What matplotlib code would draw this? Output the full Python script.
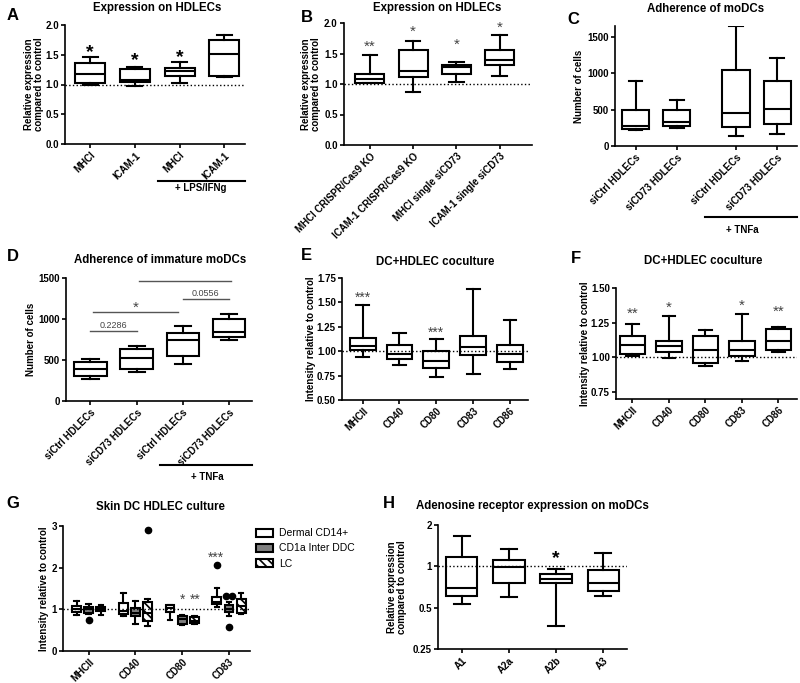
import numpy as np
import matplotlib
matplotlib.use('Agg')
import matplotlib.pyplot as plt
from matplotlib.patches import Patch
from matplotlib.lines import Line2D

plt.rcParams['font.family'] = ['Liberation Sans', 'DejaVu Sans']
plt.rcParams['font.weight'] = 'bold'
plt.rcParams['axes.labelweight'] = 'bold'
plt.rcParams['axes.linewidth'] = 1.2
plt.rcParams['hatch.linewidth'] = 1.2

W, H = 800, 683

# ---------------- data (whisker low, q1, median, q3, whisker high) ----------------
a_labels = ['MHCI', 'ICAM-1', 'MHCI', 'ICAM-1']
a_box = [(1.00, 1.02, 1.17, 1.36, 1.46), (0.97, 1.04, 1.08, 1.26, 1.30),
         (1.03, 1.15, 1.22, 1.28, 1.37), (1.13, 1.15, 1.52, 1.75, 1.84)]
a_stars = ['*', '*', '*', '*']
a_star_y = [1.64, 1.51, 1.55, 2.01]

b_labels = ['MHCI CRISPR/Cas9 KO', 'ICAM-1 CRISPR/Cas9 KO', 'MHCI single siCD73', 'ICAM-1 single siCD73']
b_box = [(1.01, 1.02, 1.08, 1.16, 1.48), (0.87, 1.11, 1.22, 1.56, 1.71),
         (1.04, 1.16, 1.28, 1.31, 1.36), (1.13, 1.31, 1.40, 1.55, 1.80)]
b_stars = ['**', '*', '*', '*']
b_star_y = [1.69, 1.93, 1.71, 2.0]

c_labels = ['siCtrl HDLECs', 'siCD73 HDLECs', 'siCtrl HDLECs', 'siCD73 HDLECs']
c_box = [(216, 239, 271, 491, 890), (248, 271, 330, 500, 638),
         (133, 261, 454, 1050, 1647), (170, 298, 514, 894, 1211)]

d_labels = ['siCtrl HDLECs', 'siCD73 HDLECs', 'siCtrl HDLECs', 'siCD73 HDLECs']
d_box = [(273, 301, 395, 476, 509), (354, 395, 525, 639, 667),
         (456, 545, 741, 830, 916), (749, 781, 842, 997, 1066)]
# comparisons: (x0, x1, line y, text y, text)
d_comp = [(0.0, 1.0, 851, 924, '0.2286'), (0.05, 1.9, 1087, 1188, '*'),
          (2.0, 3.0, 1241, 1310, '0.0556'), (1.05, 3.05, 1465, 1542, '*')]

e_labels = ['MHCII', 'CD40', 'CD80', 'CD83', 'CD86']
e_box = [(0.945, 1.014, 1.055, 1.14, 1.476), (0.856, 0.918, 0.973, 1.065, 1.19),
         (0.733, 0.825, 0.90, 1.007, 1.13), (0.767, 0.956, 1.038, 1.158, 1.64),
         (0.815, 0.89, 0.973, 1.065, 1.32)]
e_stars = ['***', '', '***', '', '']
e_star_y = [1.58, 0, 1.23, 0, 0]

f_labels = ['MHCII', 'CD40', 'CD80', 'CD83', 'CD86']
f_box = [(1.007, 1.024, 1.091, 1.156, 1.243), (0.995, 1.036, 1.084, 1.115, 1.30),
         (0.94, 0.959, 1.055, 1.156, 1.20), (0.976, 1.007, 1.055, 1.12, 1.313),
         (1.036, 1.05, 1.115, 1.207, 1.219)]
f_stars = ['**', '*', '', '*', '**']
f_star_y = [1.344, 1.387, 0, 1.40, 1.363]

g_labels = ['MHCII', 'CD40', 'CD80', 'CD83']
g_series = ['Dermal CD14+', 'CD1a Inter DDC', 'LC']
g_dermal = [(0.87, 0.93, 1.00, 1.08, 1.20), (0.83, 0.90, 0.97, 1.16, 1.40),
            (0.75, 0.94, 1.03, 1.10, 1.10), (1.06, 1.12, 1.17, 1.29, 1.51)]
g_cd1a = [(0.88, 0.92, 1.00, 1.05, 1.12), (0.64, 0.83, 0.92, 1.03, 1.20),
          (0.62, 0.64, 0.76, 0.84, 0.87), (0.83, 0.94, 1.02, 1.10, 1.18)]
g_lc = [(0.87, 0.96, 1.00, 1.05, 1.10), (0.60, 0.72, 0.92, 1.18, 1.25),
        (0.65, 0.67, 0.73, 0.82, 0.83), (0.88, 0.92, 1.08, 1.24, 1.40)]
g_dermal_out = [[], [], [], [2.07]]
g_cd1a_out = [[0.75], [], [], [1.31, 1.31, 0.58]]
g_lc_out = [[], [2.9], [], []]
g_stars = ['*', '**', '***']
g_star_x = [2.0, 2.27, 2.73]
g_star_y = [1.32, 1.32, 2.32]

h_labels = ['A1', 'A2a', 'A2b', 'A3']
h_box = [(0.535, 0.605, 0.69, 1.17, 1.65), (0.60, 0.75, 0.99, 1.12, 1.34),
         (0.366, 0.75, 0.81, 0.885, 0.957), (0.605, 0.662, 0.757, 0.935, 1.26)]
h_star_y = 1.27

# ---------------- helpers ----------------
fig = plt.figure(figsize=(8, 6.83), dpi=100)


def make_ax(l, t, r, b):
    ax = fig.add_axes([l / W, 1 - b / H, (r - l) / W, (b - t) / H])
    for s in ['top', 'right']:
        ax.spines[s].set_visible(False)
    ax.tick_params(direction='out', length=3, width=1.2, labelsize=7, pad=1.5)
    return ax


def draw_boxes(ax, rows, pos, width, face='white', hatch=None):
    stats = [dict(whislo=r[0], q1=r[1], med=r[2], q3=r[3], whishi=r[4], fliers=[]) for r in rows]
    ax.bxp(stats, positions=pos, widths=width, patch_artist=True, showfliers=False,
           boxprops=dict(facecolor=face, edgecolor='k', linewidth=1.5, hatch=hatch),
           medianprops=dict(color='k', linewidth=1.5),
           whiskerprops=dict(color='k', linewidth=1.5),
           capprops=dict(color='k', linewidth=1.5))


def xlabels(ax, pos, labels):
    ax.set_xticks(pos)
    ax.set_xticklabels(labels, rotation=45, ha='right', rotation_mode='anchor')


def stars(ax, xs, ys, marks, size=10, color='#444444', weight='normal'):
    for x, y, m in zip(xs, ys, marks):
        if m:
            ax.annotate(m, (x, y), xytext=(0, -0.55 * size), textcoords='offset points',
                        ha='center', va='baseline', fontsize=size, color=color, fontweight=weight)


def bracket(ax, x0, x1, y, text, tx, ty):
    ax.add_line(Line2D([x0, x1], [y, y], transform=ax.transAxes, color='k', lw=1.5, clip_on=False))
    ax.text(tx, ty, text, transform=ax.transAxes, ha='center', va='center', fontsize=7)


def ylab(ax, text, x):
    ax.set_ylabel(text, fontsize=7, linespacing=1.0)
    ax.yaxis.set_label_coords(x, 0.5)


def ftext(x, y, s, size, **kw):
    fig.text(x / W, 1 - y / H, s, fontsize=size, ha='center', va='center', **kw)


def dotted(ax):
    ax.axhline(1, ls=':', color='k', lw=1, zorder=5)


# ---------------- A ----------------
ax = make_ax(65, 25, 245, 144)
pos = np.arange(len(a_box))
draw_boxes(ax, a_box, pos, 0.67)
dotted(ax)
ax.set_xlim(-0.56, 3.46)
ax.set_ylim(0, 2.0)
ax.set_yticks([0, 0.5, 1.0, 1.5, 2.0])
ax.set_yticklabels(['0.0', '0.5', '1.0', '1.5', '2.0'])
xlabels(ax, pos, a_labels)
stars(ax, pos, a_star_y, a_stars, size=14, color='k', weight='bold')
ylab(ax, 'Relative expression\ncompared to control', -0.115)
bracket(ax, 0.517, 1.0, -0.31, '+ LPS/IFNg', 0.756, -0.37)
ftext(157, 8, 'Expression on HDLECs', 8.3)
ftext(13, 16, 'A', 12)

# ---------------- B ----------------
ax = make_ax(344, 23, 532, 145)
pos = np.arange(len(b_box))
draw_boxes(ax, b_box, pos, 0.67)
dotted(ax)
ax.set_xlim(-0.6, 3.75)
ax.set_ylim(0, 2.0)
ax.set_yticks([0, 0.5, 1.0, 1.5, 2.0])
ax.set_yticklabels(['0.0', '0.5', '1.0', '1.5', '2.0'])
xlabels(ax, pos, b_labels)
stars(ax, pos, b_star_y, b_stars, size=11)
ylab(ax, 'Relative expression\ncompared to control', -0.12)
ftext(437, 8, 'Expression on HDLECs', 8.3)
ftext(307, 18, 'B', 12)

# ---------------- C ----------------
ax = make_ax(615, 26, 797, 146)
pos = np.array([0, 1, 2.45, 3.45])
draw_boxes(ax, c_box, pos, 0.67)
ax.set_xlim(-0.5, 3.93)
ax.set_ylim(0, 1650)
ax.set_yticks([0, 500, 1000, 1500])
xlabels(ax, pos, c_labels)
ylab(ax, 'Number of cells', -0.17)
bracket(ax, 0.495, 1.0, -0.59, '+ TNFa', 0.70, -0.70)
ftext(706, 9, 'Adherence of moDCs', 8.3)
ftext(573, 19, 'C', 12)

# ---------------- D ----------------
ax = make_ax(66, 278, 252, 401)
pos = np.arange(len(d_box))
draw_boxes(ax, d_box, pos, 0.7)
for x0, x1, ly, ty, txt in d_comp:
    ax.plot([x0, x1], [ly, ly], color='#555555', lw=1)
    if txt == '*':
        ax.annotate(txt, ((x0 + x1) / 2, ty), xytext=(0, -6), textcoords='offset points',
                    ha='center', va='baseline', fontsize=11, color='#444444', fontweight='normal')
    else:
        ax.text((x0 + x1) / 2, ty, txt, ha='center', va='center', fontsize=6.5,
                color='#444444', fontweight='normal')
ax.set_xlim(-0.53, 3.5)
ax.set_ylim(0, 1500)
ax.set_yticks([0, 500, 1000, 1500])
xlabels(ax, pos, d_labels)
ylab(ax, 'Number of cells', -0.16)
bracket(ax, 0.505, 1.0, -0.52, '+ TNFa', 0.758, -0.62)
ftext(160, 260, 'Adherence of immature moDCs', 8.3)
ftext(13, 257, 'D', 12)

# ---------------- E ----------------
ax = make_ax(342, 278, 528, 400)
pos = np.arange(len(e_box))
draw_boxes(ax, e_box, pos, 0.7)
dotted(ax)
ax.set_xlim(-0.56, 4.49)
ax.set_ylim(0.5, 1.75)
ax.set_yticks([0.5, 0.75, 1.0, 1.25, 1.5, 1.75])
ax.set_yticklabels(['0.50', '0.75', '1.00', '1.25', '1.50', '1.75'])
xlabels(ax, pos, e_labels)
stars(ax, pos, e_star_y, e_stars, size=10)
ylab(ax, 'Intensity relative to control', -0.14)
ftext(435, 262, 'DC+HDLEC coculture', 8.3)
ftext(306, 256, 'E', 12)

# ---------------- F ----------------
ax = make_ax(616, 288, 797, 399)
pos = np.arange(len(f_box))
draw_boxes(ax, f_box, pos, 0.7)
dotted(ax)
ax.set_xlim(-0.45, 4.51)
ax.set_ylim(0.70, 1.50)
ax.set_yticks([0.75, 1.0, 1.25, 1.5])
ax.set_yticklabels(['0.75', '1.00', '1.25', '1.50'])
xlabels(ax, pos, f_labels)
stars(ax, pos, f_star_y, f_stars, size=11)
ylab(ax, 'Intensity relative to control', -0.145)
ftext(703, 261, 'DC+HDLEC coculture', 8.3)
ftext(576, 258, 'F', 12)

# ---------------- G ----------------
ax = make_ax(63, 526, 250, 651)
pos = np.arange(len(g_labels))
off = 0.26
groups = [(g_dermal, g_dermal_out, 'white', None, -off),
          (g_cd1a, g_cd1a_out, '#808080', None, 0.0),
          (g_lc, g_lc_out, 'white', '\\\\\\\\', off)]
for rows, outs, face, hatch, dx in groups:
    draw_boxes(ax, rows, pos + dx, 0.19, face=face, hatch=hatch)
    for p, vals in zip(pos + dx, outs):
        for v in sorted(set(vals)):
            n = vals.count(v)
            xs = p + (np.arange(n) - (n - 1) / 2) * 0.12
            ax.plot(xs, [v] * n, 'o', color='k', ms=4.5, zorder=6)
dotted(ax)
ax.set_xlim(-0.55, 3.45)
ax.set_ylim(0, 3)
ax.set_yticks([0, 1, 2, 3])
xlabels(ax, pos, g_labels)
stars(ax, g_star_x, g_star_y, g_stars, size=10)
ylab(ax, 'Intensity relative to control', -0.075)
handles = [Patch(facecolor='white', edgecolor='k', lw=1.5),
           Patch(facecolor='#808080', edgecolor='k', lw=1.5),
           Patch(facecolor='white', edgecolor='k', lw=1.5, hatch='\\\\\\\\')]
fig.legend(handles, g_series, loc='upper left', bbox_to_anchor=(252 / W, 1 - 524 / H),
           frameon=False, prop=dict(size=7.5, weight='normal'), handlelength=1.6,
           handleheight=0.8, labelspacing=0.5, handletextpad=0.6, borderaxespad=0)
ftext(160, 507, 'Skin DC HDLEC culture', 8.3)
ftext(13, 503, 'G', 12)

# ---------------- H ----------------
ax = make_ax(438, 525, 627, 649)
pos = np.arange(len(h_box))
draw_boxes(ax, h_box, pos, 0.66)
dotted(ax)
ax.set_yscale('log', base=2)
ax.set_ylim(0.25, 2)
ax.set_yticks([0.25, 0.5, 1, 2])
ax.set_yticklabels(['0.25', '0.5', '1', '2'])
ax.yaxis.set_minor_locator(matplotlib.ticker.NullLocator())
ax.set_xlim(-0.51, 3.51)
xlabels(ax, pos, h_labels)
stars(ax, [2], [h_star_y], ['*'], size=14, color='k', weight='bold')
ylab(ax, 'Relative expression\ncompared to control', -0.165)
ftext(532, 506, 'Adenosine receptor expression on moDCs', 8.3)
ftext(389, 503, 'H', 12)

fig.savefig('out.png', dpi=100)
